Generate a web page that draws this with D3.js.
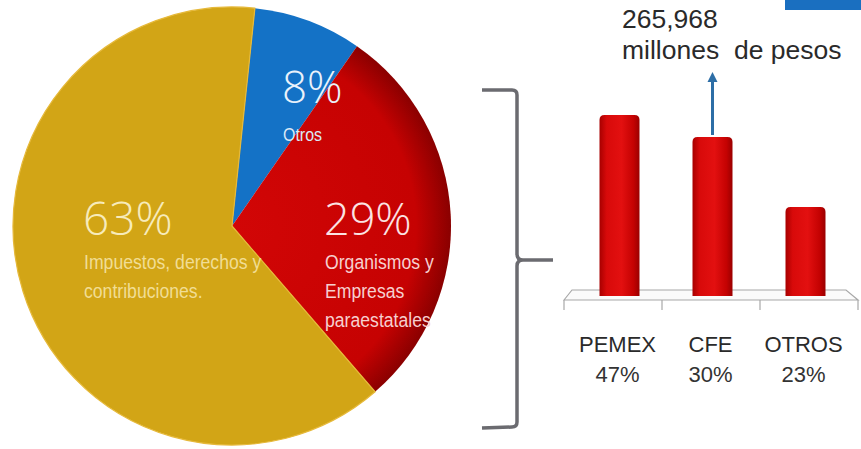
<!DOCTYPE html>
<html>
<head>
<meta charset="utf-8">
<script src="https://cdn.jsdelivr.net/npm/d3@7"></script>
<style>
  html, body { margin: 0; padding: 0; background: #ffffff; }
  svg { display: block; }
</style>
</head>
<body>
<svg id="chart" width="861" height="449"></svg>
<script>
// ---- Data ----
const pieCategories = ["Otros", "Organismos y Empresas paraestatales", "Impuestos, derechos y contribuciones."];
const pieValues = [8, 29, 63];
const pieLabels = ["8%", "29%", "63%"];
const pieSubLabels = [["Otros"], ["Organismos y", "Empresas", "paraestatales"], ["Impuestos, derechos y", "contribuciones."]];

const barCategories = ["PEMEX", "CFE", "OTROS"];
const barHeights = [47, 41.3, 23.1];      // bar heights as drawn
const barShares = ["47%", "30%", "23%"];  // labels under bars
const annotationLines = ["265,968", "millones  de pesos"];

// ---- Setup ----
const svg = d3.select("#chart");
const defs = svg.append("defs");

// Pie
const cx = 232, cy = 226, R = 219;
const pieColors = ["#1472c6", "url(#redGrad)", "#d2a516"];

const rg = defs.append("radialGradient").attr("id", "redGrad")
  .attr("gradientUnits", "userSpaceOnUse")
  .attr("cx", 0).attr("cy", 0).attr("r", R);
rg.append("stop").attr("offset", "0%").attr("stop-color", "#d20606");
rg.append("stop").attr("offset", "84%").attr("stop-color", "#c60202");
rg.append("stop").attr("offset", "100%").attr("stop-color", "#8a0000");

const pie = d3.pie().sort(null).value(d => d)
  .startAngle(6 * Math.PI / 180)
  .endAngle(6 * Math.PI / 180 + 2 * Math.PI);
const arc = d3.arc().innerRadius(0).outerRadius(R);

const pg = svg.append("g").attr("transform", `translate(${cx},${cy})`);
pg.selectAll("path.slice").data(pie(pieValues)).join("path")
  .attr("class", "slice")
  .attr("d", arc)
  .attr("fill", (d, i) => pieColors[i])
  .attr("stroke", (d, i) => i === 2 ? "#e6b93a" : "none")
  .attr("stroke-width", 1.2);

// Pie labels
const bigFont = "'Open Sans', 'DejaVu Sans', sans-serif";
const narrowFont = "'Liberation Sans', Arial, sans-serif";
const labelPos = [
  { x: 282, y: 103, sy: 141, big: 44, small: 19, c: "#eaf2fb", sc: "#dbe9f7" },
  { x: 324, y: 235, sy: 269, big: 45, small: 21, c: "#fbe3e3", sc: "#f6cfcf" },
  { x: 83,  y: 235, sy: 269, big: 46, small: 21, c: "#f7ebbb", sc: "#f1dd94" }
];
labelPos.forEach((p, i) => {
  svg.append("text")
    .attr("x", p.x).attr("y", p.y)
    .attr("font-family", bigFont).attr("font-size", p.big)
    .attr("font-weight", 300)
    .attr("fill", p.c)
    .text(pieLabels[i]);
  pieSubLabels[i].forEach((line, j) => {
    svg.append("text")
      .attr("transform", `translate(${p.x + 1},${p.sy + j * 29}) scale(0.84,1)`)
      .attr("font-family", narrowFont).attr("font-size", p.small)
      .attr("fill", p.sc)
      .text(line);
  });
});

// Bracket
const br = d3.path();
br.moveTo(482, 90); br.lineTo(512, 90);
br.quadraticCurveTo(517, 90, 517, 95);
br.lineTo(517, 254);
br.quadraticCurveTo(517, 260, 523, 260);
br.lineTo(553, 260);
br.moveTo(523, 260);
br.quadraticCurveTo(517, 260, 517, 266);
br.lineTo(517, 422);
br.quadraticCurveTo(517, 427, 512, 427);
br.lineTo(482, 428);
svg.append("path").attr("d", br.toString())
  .attr("fill", "none").attr("stroke", "#6b6b70").attr("stroke-width", 3.5);

// Bar chart
const x = d3.scaleBand().domain(barCategories).range([573, 852]).paddingInner(0.57).paddingOuter(0.285);
const y = d3.scaleLinear().domain([0, 50]).range([296, 103.5]);

// floor
const floor = svg.append("g").attr("stroke", "#a8a8a8").attr("fill", "none").attr("stroke-width", 1.2);
floor.append("path").attr("d", "M564,300 L572,290 L846,290 L858,300 Z").attr("fill", "#fbfbfb");
const tickX = d3.scaleLinear().domain([0, 3]).range([564, 858]);
floor.selectAll("line.tk").data(d3.range(4)).join("line")
  .attr("class", "tk")
  .attr("x1", d => tickX(d)).attr("x2", d => tickX(d))
  .attr("y1", 300).attr("y2", 310);

const bg = defs.append("linearGradient").attr("id", "barGrad")
  .attr("x1", "0%").attr("x2", "100%").attr("y1", "0%").attr("y2", "0%");
bg.append("stop").attr("offset", "0%").attr("stop-color", "#a80000");
bg.append("stop").attr("offset", "18%").attr("stop-color", "#d80a0a");
bg.append("stop").attr("offset", "55%").attr("stop-color", "#e31010");
bg.append("stop").attr("offset", "85%").attr("stop-color", "#c40202");
bg.append("stop").attr("offset", "100%").attr("stop-color", "#9a0000");

svg.selectAll("path.bar").data(barCategories).join("path")
  .attr("class", "bar")
  .attr("d", (c, i) => {
    const x0 = x(c), w = x.bandwidth(), yt = y(barHeights[i]), yb = y(0), r = 5;
    return `M${x0},${yb} L${x0},${yt + r} Q${x0},${yt} ${x0 + r},${yt} L${x0 + w - r},${yt} Q${x0 + w},${yt} ${x0 + w},${yt + r} L${x0 + w},${yb} Z`;
  })
  .attr("fill", "url(#barGrad)");

// bar labels
const labelFont = "'Liberation Sans', Arial, sans-serif";
svg.selectAll("text.cat").data(barCategories).join("text")
  .attr("class", "cat")
  .attr("x", c => x(c) + x.bandwidth() / 2 - 2)
  .attr("y", 352)
  .attr("text-anchor", "middle")
  .attr("font-family", labelFont).attr("font-size", 22)
  .attr("fill", "#2a2a2a")
  .text(c => c);
svg.selectAll("text.share").data(barCategories).join("text")
  .attr("class", "share")
  .attr("x", c => x(c) + x.bandwidth() / 2 - 2)
  .attr("y", 382)
  .attr("text-anchor", "middle")
  .attr("font-family", labelFont).attr("font-size", 22)
  .attr("fill", "#333333")
  .text((c, i) => barShares[i]);

// annotation arrow (CFE)
const cfeX = x("CFE") + x.bandwidth() / 2;
svg.append("line")
  .attr("x1", cfeX).attr("x2", cfeX)
  .attr("y1", y(barHeights[1]) - 2).attr("y2", 80)
  .attr("stroke", "#2d6ea6").attr("stroke-width", 3);
svg.append("path")
  .attr("d", `M${cfeX - 5},${82} L${cfeX},${72} L${cfeX + 5},${82} Z`)
  .attr("fill", "#2d6ea6");

annotationLines.forEach((t, i) => {
  svg.append("text")
    .attr("x", 622).attr("y", 28 + i * 31)
    .attr("font-family", labelFont).attr("font-size", 26.5)
    .attr("fill", "#2a2a2a")
    .style("white-space", "pre")
    .text(t);
});

// blue tab top right
svg.append("rect").attr("x", 785).attr("y", 0).attr("width", 76).attr("height", 10).attr("fill", "#1a6fc0");
</script>
</body>
</html>
